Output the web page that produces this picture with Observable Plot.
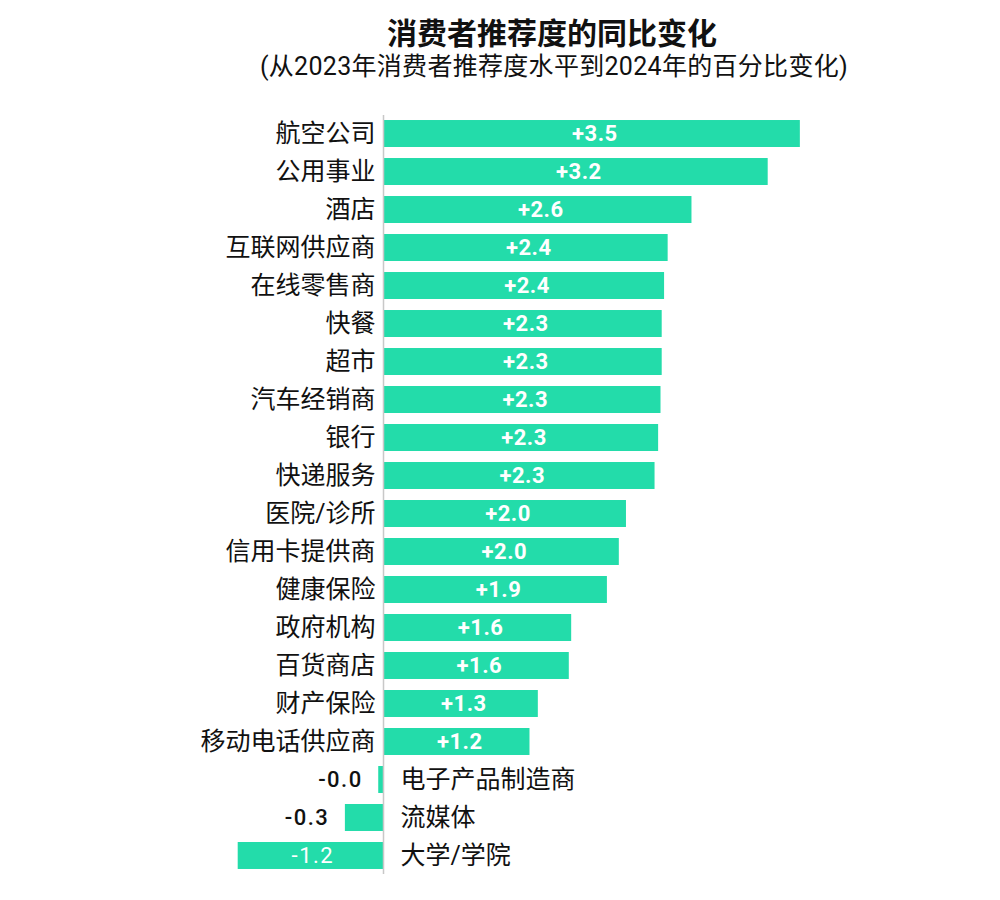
<!DOCTYPE html>
<html>
<head>
<meta charset="utf-8">
<script src="https://cdn.jsdelivr.net/npm/d3@7"></script>
<script src="https://cdn.jsdelivr.net/npm/@observablehq/plot@0.6"></script>
<style>
  body { margin: 0; background: #fff; font-family: Roboto, "Noto Sans CJK SC", sans-serif; }
  #header { position: relative; width: 1000px; height: 100px; }
  #title { position: absolute; left: 552px; top: 15px; transform: translateX(-50%); white-space: nowrap;
           font-family: "Noto Sans CJK SC", sans-serif; font-weight: 700; font-size: 30px; line-height: 32px; color: #111; }
  #subtitle { position: absolute; left: 554px; top: 52px; transform: translateX(-50%); white-space: nowrap;
           font-family: Roboto, "Noto Sans CJK SC", sans-serif; font-size: 25px; letter-spacing: 0.3px; line-height: 30px; color: #111; }
  #chart { width: 1000px; height: 800px; }
  #chart svg { display: block; }
</style>
</head>
<body>
<div id="header">
  <div id="title">消费者推荐度的同比变化</div>
  <div id="subtitle">(从2023年消费者推荐度水平到2024年的百分比变化)</div>
</div>
<div id="chart"></div>
<script>
const categories = ["航空公司","公用事业","酒店","互联网供应商","在线零售商","快餐","超市","汽车经销商","银行","快递服务","医院/诊所","信用卡提供商","健康保险","政府机构","百货商店","财产保险","移动电话供应商","电子产品制造商","流媒体","大学/学院"];
const values = [3.50,3.23,2.59,2.39,2.36,2.34,2.34,2.33,2.31,2.28,2.04,1.98,1.88,1.58,1.56,1.30,1.23,-0.04,-0.32,-1.22];

const data = categories.map((c, i) => ({category: c, value: values[i]}));
const fmt = v => (v < 0 ? "-" : "+") + Math.abs(v).toFixed(1);
const fmtNeg = v => (v < 0 ? "-" : "") + Math.abs(v).toFixed(1);

const pos = data.filter(d => d.value >= 0);
const neg = data.filter(d => d.value < 0);
const negInside = neg.filter(d => Math.abs(d.value) >= 0.6);
const negOutside = neg.filter(d => Math.abs(d.value) < 0.6);

const fontCJK = "Roboto, 'Noto Sans CJK SC', sans-serif";

const chart = Plot.plot({
  width: 1000,
  height: 800,
  marginTop: 9,
  marginBottom: 20,
  marginLeft: 204.35,
  marginRight: 140.6,
  x: {domain: [-1.5, 4], axis: null},
  y: {domain: categories, padding: 0.29, round: false, axis: null},
  style: {fontFamily: fontCJK, background: "transparent", overflow: "visible"},
  marks: [
    Plot.barX(data, {x: "value", y: "category", fill: "#23dcaa"}),
    Plot.ruleX([0], {stroke: "#c8c8c8", strokeWidth: 1.5, insetTop: 6, insetBottom: 6}),
    Plot.text(pos, {x: 0, y: "category", text: "category", textAnchor: "end", dx: -8, fontSize: 25, fill: "#111"}),
    Plot.text(neg, {x: 0, y: "category", text: "category", textAnchor: "start", dx: 17, fontSize: 25, fill: "#111"}),
    Plot.text(pos, {x: d => d.value / 2, y: "category", text: d => fmt(d.value), dx: 3, fill: "white", fontWeight: "bold", fontSize: 22}),
    Plot.text(negInside, {x: d => d.value / 2, y: "category", text: d => fmtNeg(d.value), dx: 2, fill: "white", fontSize: 22}),
    Plot.text(negOutside, {x: "value", y: "category", text: d => fmtNeg(d.value), textAnchor: "end", dx: -16, fill: "#111", fontWeight: 500, fontSize: 22})
  ]
});
d3.select(chart).selectAll("text")
  .filter(function() { return /^[+]\d/.test(this.textContent); })
  .style("letter-spacing", "0.5px");
d3.select(chart).selectAll("text")
  .filter(function() { return /^-\d/.test(this.textContent); })
  .style("letter-spacing", "1.5px");
document.getElementById("chart").appendChild(chart);
</script>
</body>
</html>
